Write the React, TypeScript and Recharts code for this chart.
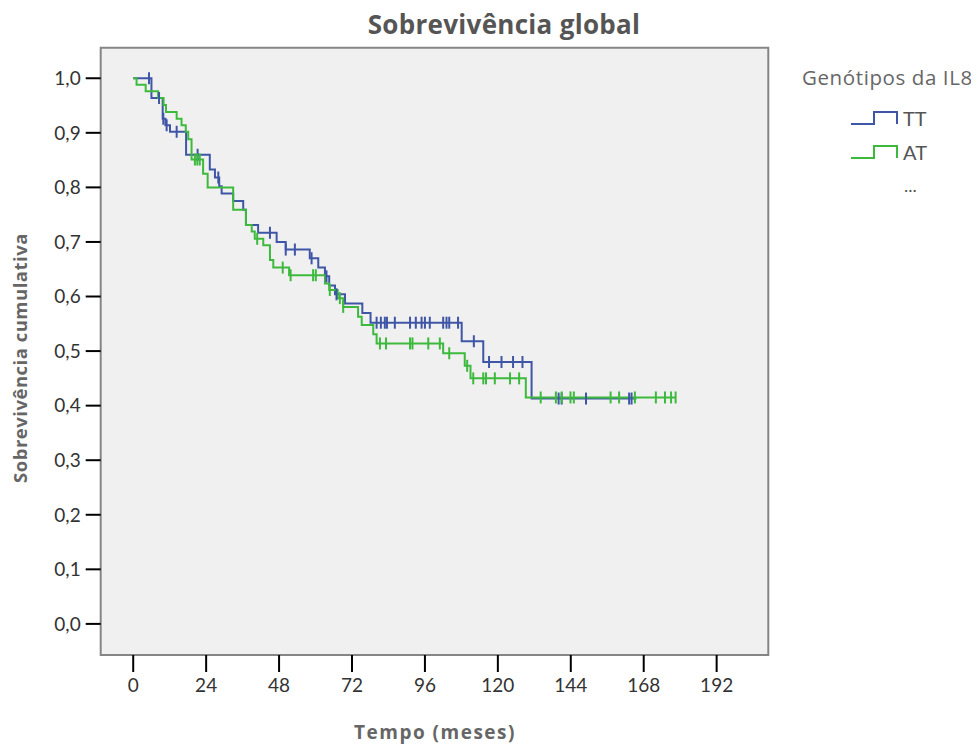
import React from 'react';
import { ComposedChart, Line, Scatter, XAxis, YAxis, ReferenceArea } from 'recharts';

// ---- data ----
const ttTimes = [0, 6.0, 9.7, 10.6, 12.1, 17.4, 25.2, 26.9, 28.3, 29.1, 32.9, 36.2, 37.1, 41.1, 47.2, 50.2, 58.1, 60.9, 63.1, 64.5, 66.4, 69.7, 75.4, 78.1, 108.1, 115.2, 131.1, 165.6];
const ttSurv = [1.0, 0.964, 0.926, 0.914, 0.902, 0.86, 0.833, 0.818, 0.802, 0.789, 0.775, 0.759, 0.731, 0.717, 0.7, 0.686, 0.67, 0.653, 0.637, 0.62, 0.604, 0.587, 0.57, 0.552, 0.518, 0.48, 0.413, 0.413];
const ttCensored = [5.2, 8.5, 9.9, 11.0, 14.3, 21.2, 28.0, 45.0, 50.2, 53.2, 58.7, 63.6, 66.9, 80.1, 81.5, 82.8, 83.5, 86.1, 91.1, 93.0, 94.9, 96.0, 97.6, 102.0, 103.1, 104.0, 106.9, 112.1, 117.1, 121.2, 125.0, 128.1, 140.0, 141.0, 149.0, 163.2, 164.0];

const atTimes = [0, 1.1, 4.1, 8.2, 10.0, 10.8, 14.3, 15.9, 17.3, 18.1, 19.2, 23.0, 24.5, 32.9, 37.1, 39.0, 40.0, 42.8, 45.0, 46.1, 51.3, 63.1, 64.5, 67.3, 69.1, 74.0, 75.2, 79.0, 80.1, 102.0, 109.1, 111.0, 129.2, 178.5];
const atSurv = [1.0, 0.988, 0.976, 0.964, 0.951, 0.938, 0.926, 0.914, 0.902, 0.888, 0.851, 0.825, 0.8, 0.759, 0.731, 0.719, 0.706, 0.694, 0.667, 0.653, 0.639, 0.624, 0.612, 0.597, 0.581, 0.563, 0.548, 0.531, 0.514, 0.496, 0.473, 0.45, 0.415, 0.415];
const atCensored = [20.3, 21.1, 21.9, 40.8, 49.2, 51.8, 59.2, 60.1, 64.7, 68.0, 69.1, 81.2, 83.2, 91.1, 91.9, 97.1, 100.9, 104.0, 109.9, 111.9, 115.2, 116.1, 119.0, 124.0, 127.0, 134.1, 139.1, 141.0, 143.9, 145.0, 157.1, 159.9, 165.1, 172.0, 175.0, 177.0, 178.5];

const xTicks = [0, 24, 48, 72, 96, 120, 144, 168, 192];
const yTicks = [0, 0.1, 0.2, 0.3, 0.4, 0.5, 0.6, 0.7, 0.8, 0.9, 1.0];
const seriesNames = ['TT', 'AT'];

// ---- helpers ----
const toSteps = (times: number[], surv: number[]) => times.map((t, i) => ({ t, s: surv[i] }));
const stepAt = (times: number[], surv: number[], t: number) => {
  let v = surv[0];
  for (let i = 0; i < times.length; i++) if (times[i] <= t) v = surv[i];
  return v;
};
const toCensor = (c: number[], times: number[], surv: number[]) => c.map((t) => ({ t, s: stepAt(times, surv, t) }));

const ttData = toSteps(ttTimes, ttSurv);
const atData = toSteps(atTimes, atSurv);
const ttCens = toCensor(ttCensored, ttTimes, ttSurv);
const atCens = toCensor(atCensored, atTimes, atSurv);

const BLUE = '#3F56A6';
const GREEN = '#3DBA3D';
const FONT = 'Lato, "Open Sans", sans-serif';
const FONT2 = '"Open Sans", sans-serif';

const CensorMark = (color: string) => (props: any) => {
  const { cx, cy } = props;
  if (cx == null || cy == null) return null;
  return <line x1={cx} x2={cx} y1={cy - 6} y2={cy + 6} stroke={color} strokeWidth={2} />;
};

const W = 963;
const H = 728;

export default function App() {
  return (
    <div style={{ position: 'relative', width: W, height: 736, fontFamily: FONT }}>
      <div style={{ position: 'absolute', left: 496 - 200, top: -1, width: 400, textAlign: 'center', fontSize: 26, lineHeight: '34px', fontWeight: 700, color: '#555', fontFamily: FONT2, letterSpacing: 0.3 }}>
        Sobrevivência global
      </div>
      <ComposedChart width={W} height={H} margin={{ top: 39.7, right: 202.7, bottom: 31, left: 32.7 }}>
        <XAxis
          type="number"
          dataKey="t"
          domain={[-10.7, 209]}
          ticks={xTicks}
          allowDataOverflow
          axisLine={false}
          tickSize={17}
          tickMargin={7}
          tickLine={{ stroke: '#000', strokeWidth: 2 }}
          tick={{ fill: '#333', fontSize: 19, fontFamily: FONT }}
          height={50}
        />
        <YAxis
          type="number"
          dataKey="s"
          domain={[-0.057, 1.056]}
          ticks={yTicks}
          allowDataOverflow
          axisLine={false}
          tickSize={15}
          tickMargin={5}
          tickLine={{ stroke: '#000', strokeWidth: 2 }}
          tick={{ fill: '#333', fontSize: 19, fontFamily: FONT }}
          tickFormatter={(v: number) => v.toFixed(1).replace('.', ',')}
          width={60}
        />
        <ReferenceArea x1={-10.7} x2={209} y1={-0.057} y2={1.056} fill="#F0F0F0" fillOpacity={1} stroke="#858585" strokeWidth={2} ifOverflow="visible" />
        <Line data={ttData} dataKey="s" type="stepAfter" stroke={BLUE} strokeWidth={2} dot={false} isAnimationActive={false} name={seriesNames[0]} />
        <Line data={atData} dataKey="s" type="stepAfter" stroke={GREEN} strokeWidth={2} dot={false} isAnimationActive={false} name={seriesNames[1]} />
        <Scatter data={ttCens} dataKey="s" shape={CensorMark(BLUE)} isAnimationActive={false} />
        <Scatter data={atCens} dataKey="s" shape={CensorMark(GREEN)} isAnimationActive={false} />
      </ComposedChart>
      <div style={{ position: 'absolute', left: 0, top: 0, pointerEvents: 'none' }}>
        <div style={{ position: 'absolute', left: 12 - 200, top: 350 - 13, width: 400, lineHeight: '26px', textAlign: 'center', transform: 'rotate(-90deg)', fontSize: 18.5, fontWeight: 700, color: '#666', whiteSpace: 'nowrap', fontFamily: FONT2, letterSpacing: 0.5 }}>
          Sobrevivência cumulativa
        </div>
        <div style={{ position: 'absolute', left: 427 - 150, top: 713, width: 300, lineHeight: '22px', textAlign: 'center', fontSize: 19, fontWeight: 700, color: '#666', fontFamily: FONT2, letterSpacing: 1.5 }}>
          Tempo (meses)
        </div>
        <div style={{ position: 'absolute', left: 794, top: 55, fontSize: 20.5, color: '#666', whiteSpace: 'nowrap', fontFamily: FONT2, letterSpacing: 0.6 }}>
          Genótipos da IL8
        </div>
        {seriesNames.map((name, i) => (
          <div key={name} style={{ position: 'absolute', left: 843, top: 98 + i * 34, height: 24, display: 'flex', alignItems: 'center' }}>
            <svg width={50} height={20} style={{ display: 'block' }}>
              <polyline points="0,16 23,16 23,4 46,4 46,16" fill="none" stroke={i === 0 ? BLUE : GREEN} strokeWidth={2} />
            </svg>
            <span style={{ fontSize: 20, color: '#555', marginLeft: 2 }}>{name}</span>
          </div>
        ))}
        <div style={{ position: 'absolute', left: 896, top: 166, fontSize: 18, color: '#555' }}>...</div>
      </div>
    </div>
  );
}
